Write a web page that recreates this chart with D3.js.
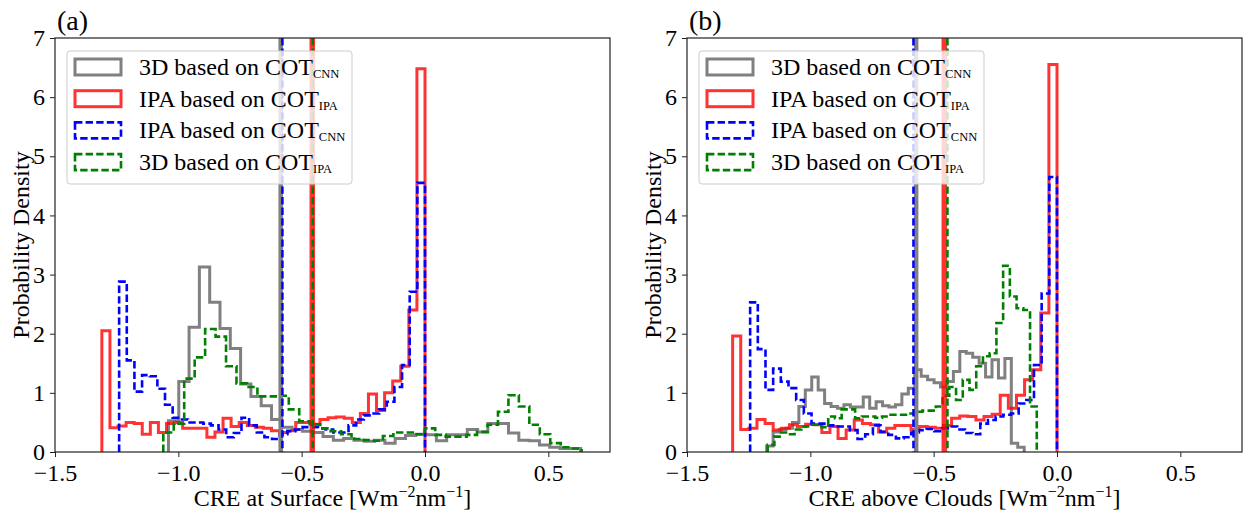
<!DOCTYPE html>
<meta charset="utf-8">
<style>
  body { margin: 0; background: #fff; }
</style>
<body>
<script src="https://cdn.jsdelivr.net/npm/d3@7/dist/d3.min.js"></script>
<script>

// panel texts
var panelTags = ["(a)", "(b)"];
var xTitles = ["CRE at Surface", "CRE above Clouds"];
var xTicks = [-1.5, -1.0, -0.5, 0.0, 0.5];
var yTicks = [0, 1, 2, 3, 4, 5, 6, 7];
var legendMain = ["3D based on COT", "IPA based on COT", "IPA based on COT", "3D based on COT"];
var legendSub = ["CNN", "IPA", "CNN", "IPA"];

// histogram ranges [first edge, last edge] and bin heights (40 bins each)
var grayA_range = [-1.040, 0.631];
var grayA = [0.53, 1.19, 2.11, 3.13, 2.53, 2.09, 1.75, 1.15, 0.94, 0.78, 0.55, 0.42, 0.38, 0.35, 0.33, 0.26, 0.20, 0.23, 0.20, 0.18,
             0.20, 0.15, 0.23, 0.28, 0.30, 0.29, 0.19, 0.29, 0.29, 0.38, 0.34, 0.48, 0.48, 0.32, 0.20, 0.19, 0.12, 0.08, 0.06, 0.06];
var redA_range = [-1.310, 0.0];
var redA = [2.05, 0.41, 0.44, 0.50, 0.48, 0.30, 0.50, 0.33, 0.48, 0.50, 0.40, 0.40, 0.40, 0.25, 0.34, 0.57, 0.43, 0.50, 0.45, 0.42,
            0.40, 0.36, 0.33, 0.36, 0.50, 0.50, 0.47, 0.55, 0.58, 0.59, 0.57, 0.50, 0.65, 0.98, 0.70, 1.00, 1.20, 1.45, 2.40, 6.48];
var blueA_range = [-1.240, 0.0];
var blueA = [2.88, 1.55, 1.02, 1.30, 1.28, 1.07, 0.80, 0.58, 0.55, 0.50, 0.50, 0.48, 0.45, 0.38, 0.25, 0.32, 0.58, 0.45, 0.33, 0.25,
             0.22, 0.30, 0.35, 0.38, 0.42, 0.42, 0.40, 0.38, 0.33, 0.33, 0.45, 0.55, 0.62, 0.65, 0.72, 0.85, 1.10, 1.47, 2.71, 4.55];
var greenA_range = [-1.061, 0.635];
var greenA = [0.33, 0.48, 1.24, 1.60, 2.08, 1.95, 1.45, 1.16, 1.10, 0.94, 0.94, 0.95, 0.72, 0.52, 0.47, 0.40, 0.35, 0.30, 0.22, 0.20,
              0.19, 0.27, 0.33, 0.33, 0.30, 0.40, 0.29, 0.26, 0.26, 0.29, 0.34, 0.46, 0.68, 0.96, 0.77, 0.46, 0.30, 0.15, 0.08, 0.06];

var grayB_range = [-1.177, -0.133];
var grayB = [0.10, 0.34, 0.38, 0.40, 0.50, 0.77, 1.05, 1.27, 1.05, 0.82, 0.77, 0.74, 0.80, 0.76, 0.76, 0.93, 0.74, 0.85, 0.78, 0.76,
             0.80, 0.98, 1.08, 1.39, 1.28, 1.22, 1.17, 1.10, 1.19, 1.36, 1.70, 1.67, 1.60, 1.50, 1.27, 1.56, 1.25, 1.58, 0.15, 0.08];
var redB_range = [-1.315, 0.0];
var redB = [1.96, 0.38, 0.40, 0.55, 0.48, 0.37, 0.40, 0.46, 0.43, 0.47, 0.46, 0.33, 0.43, 0.23, 0.37, 0.54, 0.48, 0.46, 0.34, 0.40,
            0.45, 0.45, 0.38, 0.43, 0.42, 0.40, 0.45, 0.57, 0.61, 0.60, 0.54, 0.60, 0.64, 0.96, 0.74, 0.96, 1.22, 1.39, 2.35, 6.55];
var blueB_range = [-1.244, 0.0];
var blueB = [2.53, 1.74, 1.05, 1.41, 1.19, 1.08, 0.88, 0.65, 0.48, 0.48, 0.45, 0.43, 0.43, 0.37, 0.22, 0.30, 0.45, 0.34, 0.29, 0.23,
             0.25, 0.33, 0.37, 0.39, 0.35, 0.40, 0.43, 0.38, 0.32, 0.30, 0.48, 0.54, 0.60, 0.63, 0.65, 0.82, 0.88, 1.47, 2.68, 4.65];
var greenB_range = [-1.173, -0.082];
var greenB = [0.12, 0.26, 0.33, 0.30, 0.38, 0.43, 0.46, 0.46, 0.42, 0.60, 0.57, 0.72, 0.72, 0.57, 0.60, 0.60, 0.58, 0.60, 0.63, 0.63,
              0.63, 0.65, 0.68, 0.70, 0.70, 0.77, 0.95, 1.10, 0.88, 1.22, 1.05, 1.45, 1.62, 1.67, 2.18, 3.15, 2.63, 2.43, 2.40, 0.77];

// means drawn as vertical lines: gray, red, blue, green
var meansA = [-0.585, -0.457, -0.578, -0.455];
var meansB = [-0.571, -0.457, -0.582, -0.444];

// styles per series: gray, red, blue, green
var styles = [
  {color: "#808080", dash: null, width: 3, opacity: 1, vwidth: 4.5},
  {color: "#ff0000", dash: null, width: 3, opacity: 0.8, vwidth: 5.5},
  {color: "#0000ff", dash: "7.4,3.2", width: 2.6, opacity: 1, vwidth: 2.5},
  {color: "#008000", dash: "7.4,3.2", width: 2.6, opacity: 1, vwidth: 2.5}
];

var panelData = [
  {hists: [[grayA_range, grayA], [redA_range, redA], [blueA_range, blueA], [greenA_range, greenA]], means: meansA},
  {hists: [[grayB_range, grayB], [redB_range, redB], [blueB_range, blueB], [greenB_range, greenB]], means: meansB}
];

var W = 1243, H = 512;
var lefts = [55, 687];
var plotW = 555, plotTop = 38, plotBottom = 452;
var serif = "'Liberation Serif', 'Times New Roman', serif";

var svg = d3.select("body").append("svg")
    .attr("width", W)
    .attr("height", H);

var y = d3.scaleLinear().domain([0, 7]).range([plotBottom, plotTop]);

panelData.forEach(function(p, k) {
  var left = lefts[k];
  var x = d3.scaleLinear().domain([-1.5, 0.75]).range([left, left + plotW]);
  var g = svg.append("g");

  // histograms as steps
  var line = d3.line().x(function(d) { return x(d[0]); }).y(function(d) { return y(d[1]); });
  p.hists.forEach(function(h, i) {
    var lo = h[0][0], hi = h[0][1], vals = h[1], n = vals.length;
    var pts = [[lo, 0]];
    vals.forEach(function(v, j) {
      pts.push([lo + (hi - lo) * j / n, v]);
      pts.push([lo + (hi - lo) * (j + 1) / n, v]);
    });
    pts.push([hi, 0]);
    var s = styles[i];
    g.append("path")
        .attr("d", line(pts))
        .attr("fill", "none")
        .attr("stroke", s.color)
        .attr("stroke-opacity", s.opacity)
        .attr("stroke-width", s.width)
        .attr("stroke-dasharray", s.dash)
        .attr("stroke-linejoin", "miter");
  });

  // mean lines
  p.means.forEach(function(m, i) {
    var s = styles[i];
    g.append("line")
        .attr("x1", x(m)).attr("x2", x(m))
        .attr("y1", plotTop).attr("y2", plotBottom)
        .attr("stroke", s.color)
        .attr("stroke-opacity", s.opacity)
        .attr("stroke-width", s.vwidth)
        .attr("stroke-dasharray", s.dash);
  });

  // axes
  var xa = g.append("g")
      .attr("transform", "translate(0," + plotBottom + ")")
      .call(d3.axisBottom(x).tickValues(xTicks).tickSize(5).tickPadding(7).tickFormat(d3.format(".1f")));
  var ya = g.append("g")
      .attr("transform", "translate(" + left + ",0)")
      .call(d3.axisLeft(y).tickValues(yTicks).tickSize(5).tickPadding(5).tickFormat(d3.format("d")));
  [xa, ya].forEach(function(a) {
    a.select(".domain").remove();
    a.selectAll("line").attr("stroke", "#222");
    a.selectAll("text").style("font-family", serif).style("font-size", "24px").style("fill", "#000");
  });

  g.append("rect")
      .attr("x", left).attr("y", plotTop)
      .attr("width", plotW).attr("height", plotBottom - plotTop)
      .attr("fill", "none")
      .attr("stroke", "#222")
      .attr("stroke-width", 1.2);

  // axis titles
  var xt = g.append("text")
      .attr("x", left + plotW / 2)
      .attr("y", 506)
      .attr("text-anchor", "middle")
      .style("font-family", serif)
      .style("font-size", "24px");
  xt.append("tspan").text(xTitles[k] + " [Wm");
  xt.append("tspan").attr("dy", -9).style("font-size", "16px").text("\u22122");
  xt.append("tspan").attr("dy", 9).text("nm");
  xt.append("tspan").attr("dy", -9).style("font-size", "16px").text("\u22121");
  xt.append("tspan").attr("dy", 9).text("]");

  g.append("text")
      .attr("transform", "translate(" + (left - 26) + "," + ((plotTop + plotBottom) / 2) + ") rotate(-90)")
      .attr("text-anchor", "middle")
      .style("font-family", serif)
      .style("font-size", "24px")
      .text("Probability Density");

  g.append("text")
      .attr("x", left + 2)
      .attr("y", 30)
      .style("font-family", serif)
      .style("font-size", "28px")
      .text(panelTags[k]);

  // legend
  var lg = g.append("g");
  lg.append("rect")
      .attr("x", left + 12).attr("y", 51)
      .attr("width", 285).attr("height", 133)
      .attr("rx", 3)
      .attr("fill", "white").attr("fill-opacity", 0.8)
      .attr("stroke", "#cccccc").attr("stroke-width", 1);
  legendMain.forEach(function(name, i) {
    var s = styles[i];
    var cy = 67 + 31.7 * i;
    lg.append("rect")
        .attr("x", left + 20).attr("y", cy - 8)
        .attr("width", 46).attr("height", 16)
        .attr("fill", "none")
        .attr("stroke", s.color)
        .attr("stroke-opacity", s.opacity)
        .attr("stroke-width", s.width)
        .attr("stroke-dasharray", s.dash);
    var t = lg.append("text")
        .attr("x", left + 84).attr("y", cy + 8)
        .style("font-family", serif)
        .style("font-size", "24px");
    t.append("tspan").text(name);
    t.append("tspan").attr("dy", 3).style("font-size", "12.5px").text(legendSub[i]);
  });
});

</script>
</body>
